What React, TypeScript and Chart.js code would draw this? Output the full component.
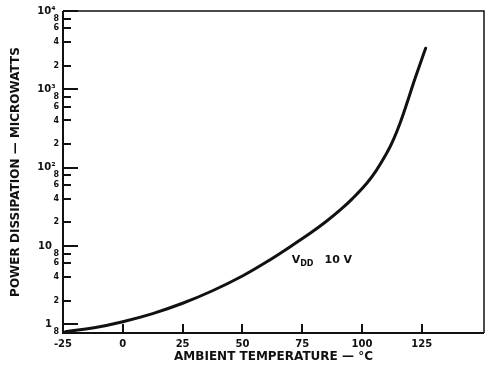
import React, { useEffect, useRef } from "react";
import { Chart, registerables } from "chart.js";

Chart.register(...registerables);

// Curve data: ambient temperature (°C) vs power dissipation (µW)
const temperatures = [-24, -12, 0, 12.5, 25, 37.5, 50, 60, 70, 78.3, 85, 90.9, 96, 102, 106, 110.3, 113, 115.9, 118.7, 121.5, 124, 126.6];
const powerMicrowatts = [0.804, 0.904, 1.08, 1.37, 1.855, 2.68, 4.14, 6.23, 9.8, 14.5, 20.5, 28.8, 40.2, 63.2, 92.4, 152.7, 223, 369, 653, 1197, 1991, 3350];

const xTickValues = [-25, 0, 25, 50, 75, 100, 125];
const xTickLabels = ["-25", "0", "25", "50", "75", "100", "125"];

const yTickValues = [0.8, 1, 2, 4, 6, 8, 10, 20, 40, 60, 80, 100, 200, 400, 600, 800, 1000, 2000, 4000, 6000, 8000, 10000];
const yTickLabels = ["8", "1\u00A0\u00A0", "2", "4", "6", "8", "10\u00A0\u00A0", "2", "4", "6", "8", "10²\u00A0", "2", "4", "6", "8", "10³\u00A0", "2", "4", "6", "8", "10⁴\u00A0"];
const decadeValues = [1, 10, 100, 1000, 10000];

const xTitle = "AMBIENT TEMPERATURE — °C";
const yTitle = "POWER DISSIPATION — MICROWATTS";
const curveLabelMain = "V";
const curveLabelSub = "DD";
const curveLabelRest = "10 V";
const curveLabelAt = { x: 70.6, y: 6.0 };

const FONT = '"DejaVu Sans", sans-serif';
const INK = "#111";

const framePlugin = {
  id: "framePlugin",
  afterDraw(chart: any) {
    const { ctx, chartArea: a, scales } = chart;
    const xs = scales.x;
    const ys = scales.y;
    ctx.save();
    ctx.strokeStyle = INK;
    ctx.lineCap = "butt";
    ctx.lineWidth = 2;
    // inward y ticks
    yTickValues.forEach((v) => {
      if (v <= ys.min) return;
      const py = Math.round(ys.getPixelForValue(v));
      const len = decadeValues.includes(v) ? 15 : 8;
      ctx.beginPath();
      ctx.moveTo(a.left, py);
      ctx.lineTo(a.left + len, py);
      ctx.stroke();
    });
    // inward x ticks
    xTickValues.forEach((v) => {
      if (v <= xs.min) return;
      const px = Math.round(xs.getPixelForValue(v));
      ctx.beginPath();
      ctx.moveTo(px, a.bottom);
      ctx.lineTo(px, a.bottom - 9);
      ctx.stroke();
    });
    // frame
    ctx.lineWidth = 2;
    ctx.beginPath();
    ctx.moveTo(a.left, a.top);
    ctx.lineTo(a.left, a.bottom);
    ctx.lineTo(a.right, a.bottom);
    ctx.stroke();
    ctx.lineWidth = 1.5;
    ctx.beginPath();
    ctx.moveTo(a.left, a.top);
    ctx.lineTo(a.right, a.top);
    ctx.lineTo(a.right, a.bottom);
    ctx.stroke();
    // curve label
    ctx.fillStyle = INK;
    ctx.textBaseline = "alphabetic";
    ctx.textAlign = "left";
    let tx = xs.getPixelForValue(curveLabelAt.x);
    const ty = ys.getPixelForValue(curveLabelAt.y);
    ctx.font = `bold 11px ${FONT}`;
    ctx.fillText(curveLabelMain, tx, ty);
    tx += ctx.measureText(curveLabelMain).width;
    ctx.font = `bold 8px ${FONT}`;
    ctx.fillText(curveLabelSub, tx, ty + 3);
    tx += ctx.measureText(curveLabelSub).width + 11;
    ctx.font = `bold 11px ${FONT}`;
    ctx.fillText(curveLabelRest, tx, ty);
    ctx.restore();
  },
};

export default function App() {
  const canvasRef = useRef<HTMLCanvasElement | null>(null);

  useEffect(() => {
    document.body.style.margin = "0";
    const canvas = canvasRef.current;
    if (!canvas) return;
    const chart = new Chart(canvas, {
      type: "line",
      data: {
        datasets: [
          {
            data: temperatures.map((t, i) => ({ x: t, y: powerMicrowatts[i] })),
            borderColor: INK,
            borderWidth: 3,
            pointRadius: 0,
            fill: false,
            tension: 0.4,
            borderJoinStyle: "round",
            borderCapStyle: "round",
          },
        ],
      },
      options: {
        responsive: false,
        animation: false,
        events: [],
        layout: { padding: { top: 11, right: 4, bottom: 0, left: 0 } },
        plugins: {
          legend: { display: false },
          tooltip: { enabled: false },
          title: { display: false },
        },
        scales: {
          x: {
            type: "linear",
            min: -25,
            max: 151,
            grid: { display: false, drawTicks: false },
            border: { display: false },
            afterBuildTicks: (scale: any) => {
              scale.ticks = xTickValues.map((v) => ({ value: v }));
            },
            afterFit: (scale: any) => {
              scale.height = 35;
            },
            ticks: {
              autoSkip: false,
              maxRotation: 0,
              padding: 5,
              color: INK,
              font: { family: FONT, size: 10, weight: "bold" },
              callback: (value: any) => xTickLabels[xTickValues.indexOf(Number(value))] ?? "",
            },
            title: {
              display: true,
              text: xTitle,
              color: INK,
              font: { family: FONT, size: 12, weight: "bold" },
              padding: { top: 0, bottom: 4 },
            },
          },
          y: {
            type: "logarithmic",
            min: 0.774,
            max: 10000,
            grid: { display: false, drawTicks: false },
            border: { display: false },
            afterBuildTicks: (scale: any) => {
              scale.ticks = yTickValues.map((v) => ({ value: v }));
            },
            afterFit: (scale: any) => {
              scale.width = 63;
            },
            ticks: {
              autoSkip: false,
              padding: 4,
              color: INK,
              font: (c: any) =>
                c.tick && decadeValues.includes(c.tick.value)
                  ? { family: FONT, size: 10, weight: "bold" }
                  : { family: FONT, size: 8, weight: "bold" },
              callback: (value: any) => yTickLabels[yTickValues.indexOf(Number(value))] ?? "",
            },
            title: {
              display: true,
              text: yTitle,
              color: INK,
              font: { family: FONT, size: 12, weight: "bold" },
              padding: { top: 9, bottom: 0 },
            },
          },
        },
      },
      plugins: [framePlugin],
    } as any);
    return () => chart.destroy();
  }, []);

  return (
    <div style={{ width: 488, height: 368, background: "#fff" }}>
      <canvas ref={canvasRef} width={488} height={368} style={{ display: "block" }} />
    </div>
  );
}
